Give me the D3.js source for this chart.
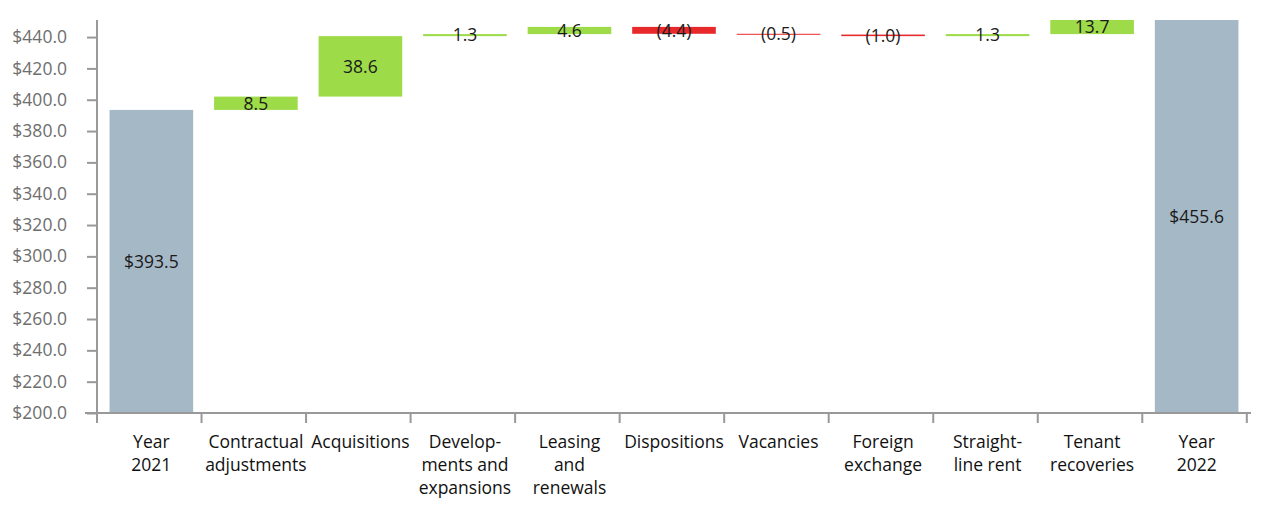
<!DOCTYPE html>
<html><head><meta charset="utf-8">
<script src="https://cdn.jsdelivr.net/npm/d3@7"></script>
<style>body{margin:0;background:#fff}svg{display:block}</style>
</head><body>
<svg id="c" width="1270" height="514"></svg>
<script>
const categories = ["Year 2021","Contractual adjustments","Acquisitions","Develop- ments and expansions","Leasing and renewals","Dispositions","Vacancies","Foreign exchange","Straight- line rent","Tenant recoveries","Year 2022"];
const labelLines = [["Year","2021"],["Contractual","adjustments"],["Acquisitions"],["Develop-","ments and","expansions"],["Leasing","and","renewals"],["Dispositions"],["Vacancies"],["Foreign","exchange"],["Straight-","line rent"],["Tenant","recoveries"],["Year","2022"]];
const values = [393.5, 8.5, 38.6, 1.3, 4.6, -4.4, -0.5, -1.0, 1.3, 13.7, 455.6];
const valueLabels = ["$393.5","8.5","38.6","1.3","4.6","(4.4)","(0.5)","(1.0)","1.3","13.7","$455.6"];
const kinds = ["total","delta","delta","delta","delta","delta","delta","delta","delta","delta","total"];
const yTicks = [200,220,240,260,280,300,320,340,360,380,400,420,440];
const yMin = 200, yMax = 450.9;

const FONT = "'Open Sans', sans-serif";
const FS = 17.5;
const colors = {total:"#a5b8c6", up:"#9ddc48", down:"#e8292b"};
const svg = d3.select("#c");
const L = 97, R = 1251, T = 20, B = 413;
const x = d3.scaleBand().domain(categories).range([L,R]).paddingInner(0.2).paddingOuter(0.12);
const y = d3.scaleLinear().domain([yMin,yMax]).range([B,T]);

let run = 0;
const bars = values.map((v,i)=>{
  let lo, hi, color;
  if (kinds[i]==="total"){ lo = yMin; hi = v; run = v; color = colors.total; }
  else { const s = run; run = run + v; lo = Math.min(s,run); hi = Math.max(s,run); color = v>=0?colors.up:colors.down; }
  return {cat:categories[i], lo, hi, color, label:valueLabels[i]};
});
const clamp = v => Math.max(yMin, Math.min(yMax, v));

svg.append("defs").append("clipPath").attr("id","clip").append("rect")
  .attr("x",L).attr("y",T).attr("width",R-L).attr("height",B-T);

const g = svg.append("g").attr("clip-path","url(#clip)");
g.selectAll("rect").data(bars).join("rect")
  .attr("x",d=>x(d.cat)).attr("width",x.bandwidth())
  .attr("y",d=>y(d.hi)).attr("height",d=>Math.max(1, y(d.lo)-y(d.hi)))
  .attr("fill",d=>d.color);

svg.selectAll("text.val").data(bars).join("text").attr("class","val")
  .attr("x",d=>x(d.cat)+x.bandwidth()/2)
  .attr("y",d=>(y(clamp(d.lo))+y(clamp(d.hi)))/2)
  .attr("dy","0.36em").attr("text-anchor","middle")
  .attr("font-family",FONT).attr("font-size",FS).attr("fill","#1a1a1a")
  .text(d=>d.label);

const ya = svg.append("g").attr("transform",`translate(${L},0)`)
  .call(d3.axisLeft(y).tickValues(yTicks).tickSize(10).tickPadding(20).tickFormat(d=>"$"+d.toFixed(1)));
ya.select(".domain").attr("stroke","#999").attr("stroke-width",2).attr("d",`M0,${T}V${B}`);
ya.selectAll(".tick line").attr("stroke","#999").attr("stroke-width",2);
ya.selectAll(".tick text").attr("fill","#6e6e6e").attr("font-family",FONT).attr("font-size",FS);

const xa = svg.append("g").attr("transform",`translate(0,${B})`);
xa.append("line").attr("x1",L-12).attr("x2",R).attr("y1",0).attr("y2",0).attr("stroke","#999").attr("stroke-width",2);
const step = x.step();
const bounds = d3.range(categories.length+1).map(i=>L+i*step);
xa.selectAll("line.t").data(bounds).join("line").attr("class","t")
  .attr("x1",d=>d).attr("x2",d=>d).attr("y1",0).attr("y2",10).attr("stroke","#999").attr("stroke-width",2);
xa.selectAll("text.cat").data(categories).join("text").attr("class","cat")
  .attr("x",d=>x(d)+x.bandwidth()/2).attr("y",35)
  .attr("text-anchor","middle").attr("font-family",FONT).attr("font-size",FS).attr("fill","#111")
  .each(function(d,i){
    d3.select(this).selectAll("tspan").data(labelLines[i]).join("tspan")
      .attr("x",x(d)+x.bandwidth()/2).attr("dy",(t,j)=>j===0?0:23).text(t=>t);
  });
</script>
</body></html>
